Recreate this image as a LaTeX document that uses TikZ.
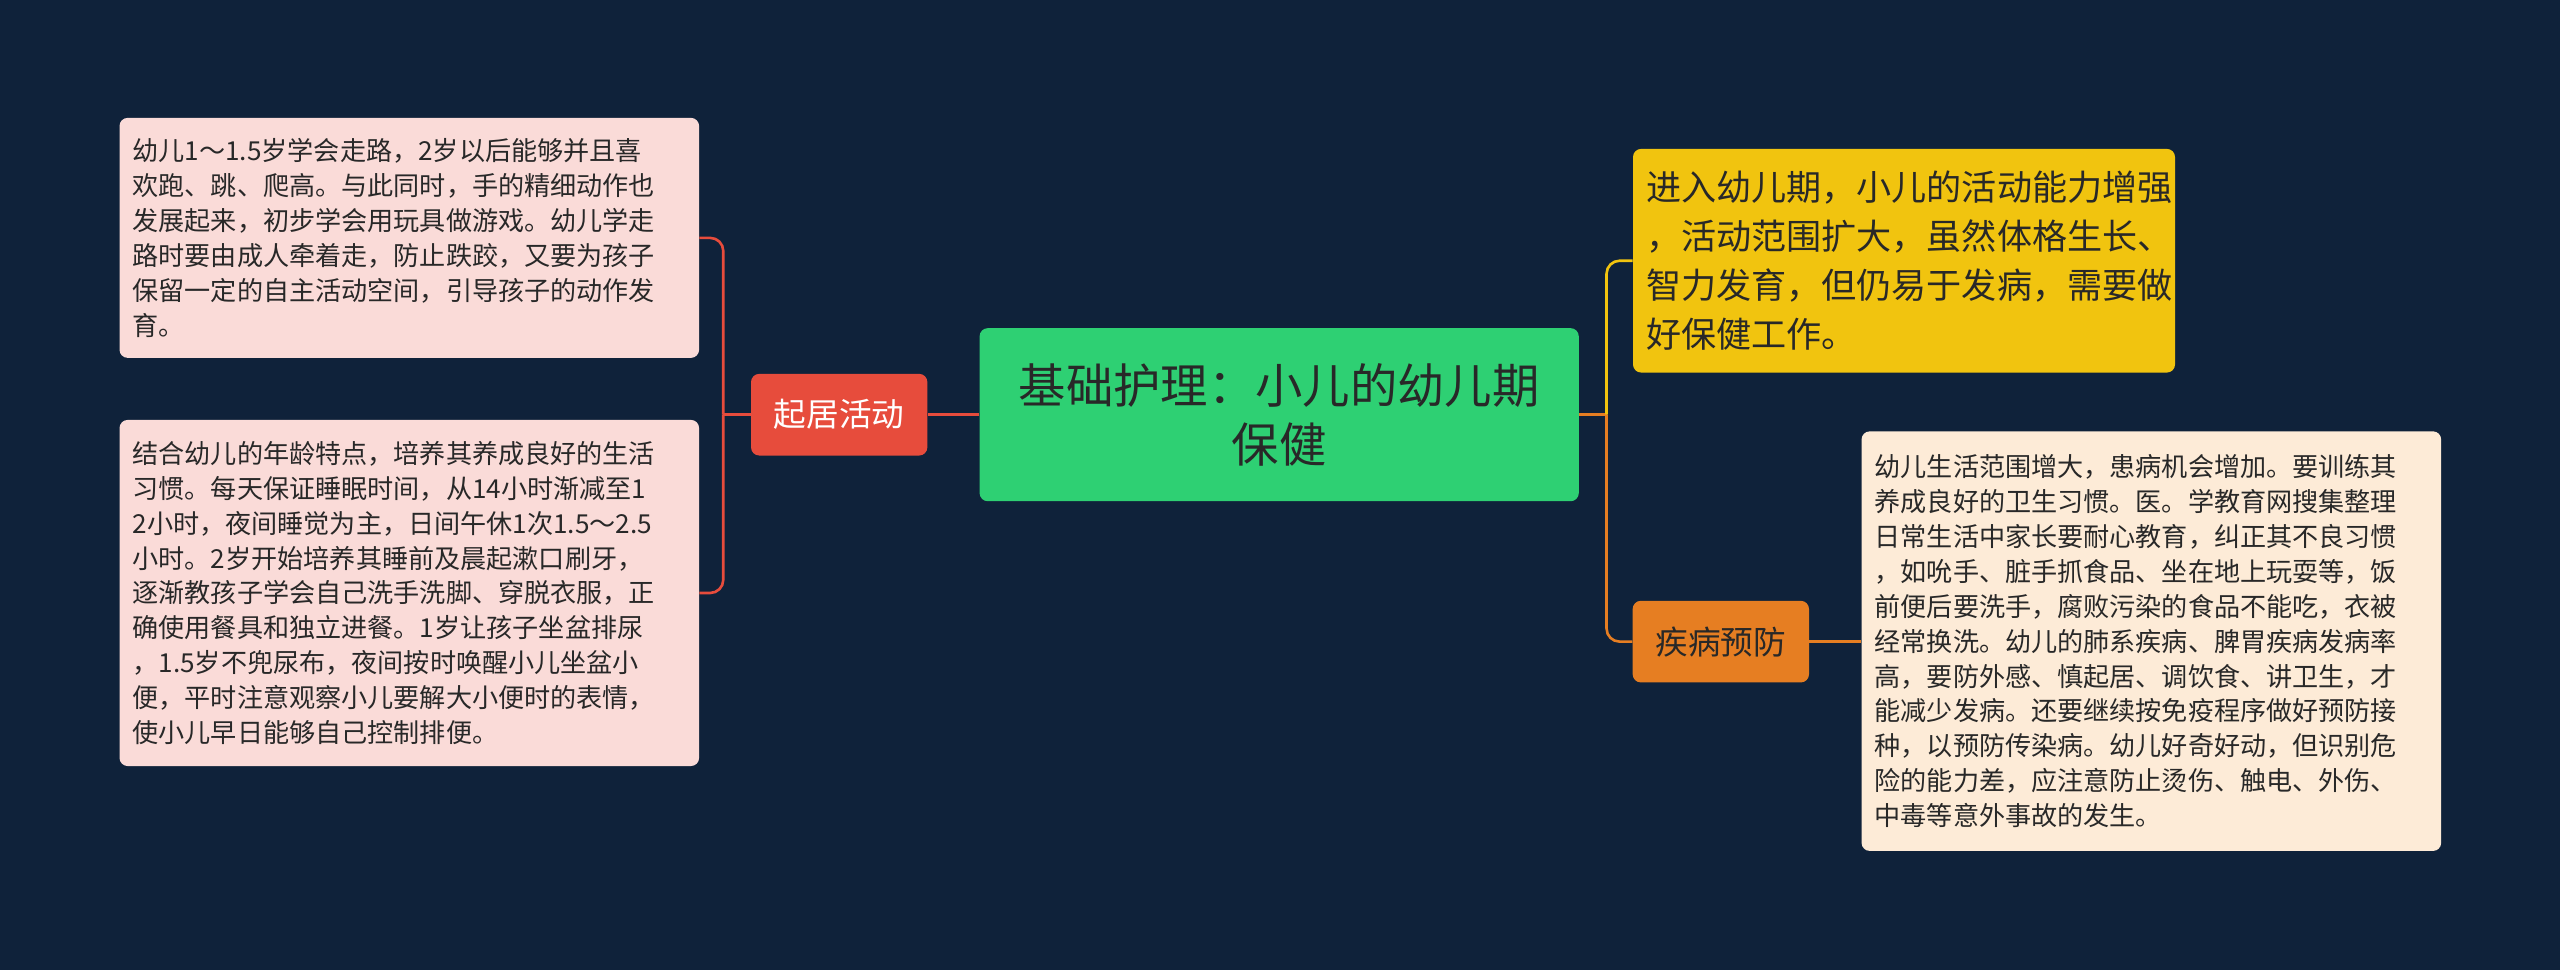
\documentclass[tikz,border=0pt]{standalone}
\usepackage{fontspec}
\setmainfont{Noto Sans CJK SC}
\definecolor{bgblue}{RGB}{15,34,58}
\definecolor{rootgreen}{RGB}{46,208,115}
\definecolor{redtopic}{RGB}{231,76,60}
\definecolor{pinkleaf}{RGB}{250,219,216}
\definecolor{yellowtopic}{RGB}{241,196,15}
\definecolor{orangetopic}{RGB}{230,126,34}
\definecolor{peachleaf}{RGB}{253,235,215}
\definecolor{darktext}{RGB}{40,40,40}
\tikzset{
  leafbox/.style={rectangle, rounded corners=5pt, anchor=north west, align=left, inner sep=8pt, text=darktext, font=\fontsize{16}{21.4}\selectfont},
  topicbox/.style={rectangle, rounded corners=5pt, text=white, font=\fontsize{20}{24}\selectfont, minimum width=108pt, minimum height=50pt},
  branch/.style={line width=1.6pt, rounded corners=8pt}
}
\begin{document}
\begin{tikzpicture}[x=1pt, y=-1pt]
  % background
  \fill[bgblue] (0,0) rectangle (1568,594);
  \useasboundingbox (0,0) rectangle (1568,594);

  % root
  \node[rectangle, rounded corners=5pt, fill=rootgreen, text=darktext, align=center,
        minimum width=367pt, minimum height=106pt,
        font=\fontsize{29}{36}\selectfont] (root) at (783.5,254) {基础护理：小儿的幼儿期\\保健};

  % left branch
  \node[topicbox, fill=redtopic] (qiju) at (514,254) {起居活动};
  \node[leafbox, fill=pinkleaf, text width=339pt, minimum height=147pt] (walk) at (73,72)
    {幼儿1～1.5岁学会走路，2岁以后能够并且喜\\欢跑、跳、爬高。与此同时，手的精细动作也\\发展起来，初步学会用玩具做游戏。幼儿学走\\路时要由成人牵着走，防止跌跤，又要为孩子\\保留一定的自主活动空间，引导孩子的动作发\\育。};
  \node[leafbox, fill=pinkleaf, text width=339pt, minimum height=212pt] (habit) at (73,257)
    {结合幼儿的年龄特点，培养其养成良好的生活\\习惯。每天保证睡眠时间，从14小时渐减至1\\2小时，夜间睡觉为主，日间午休1次1.5～2.5\\小时。2岁开始培养其睡前及晨起漱口刷牙，\\逐渐教孩子学会自己洗手洗脚、穿脱衣服，正\\确使用餐具和独立进餐。1岁让孩子坐盆排尿\\，1.5岁不兜尿布，夜间按时唤醒小儿坐盆小\\便，平时注意观察小儿要解大小便时的表情，\\使小儿早日能够自己控制排便。};

  % right branch
  \node[leafbox, fill=yellowtopic, text width=316pt, minimum height=137pt,
        font=\fontsize{21.5}{30}\selectfont] (intro) at (1000,91)
    {进入幼儿期，小儿的活动能力增强\\，活动范围扩大，虽然体格生长、\\智力发育，但仍易于发病，需要做\\好保健工作。};
  \node[topicbox, fill=orangetopic, text=darktext] (jibing) at (1054,393) {疾病预防};
  \node[leafbox, fill=peachleaf, text width=339pt, minimum height=257pt] (prevent) at (1140,264)
    {幼儿生活范围增大，患病机会增加。要训练其\\养成良好的卫生习惯。医。学教育网搜集整理\\日常生活中家长要耐心教育，纠正其不良习惯\\，如吮手、脏手抓食品、坐在地上玩耍等，饭\\前便后要洗手，腐败污染的食品不能吃，衣被\\经常换洗。幼儿的肺系疾病、脾胃疾病发病率\\高，要防外感、慎起居、调饮食、讲卫生，才\\能减少发病。还要继续按免疫程序做好预防接\\种，以预防传染病。幼儿好奇好动，但识别危\\险的能力差，应注意防止烫伤、触电、外伤、\\中毒等意外事故的发生。};

  % connectors
  \coordinate (lj) at (443,254);
  \coordinate (rj) at (984,254);
  \draw[branch, redtopic] (root.west) -- (qiju.east);
  \draw[branch, redtopic] (qiju.west) -- (lj);
  \draw[branch, redtopic] (lj) |- (walk.east);
  \draw[branch, redtopic] (lj) |- (habit.east);
  \draw[branch, orangetopic] (root.east) -- (rj);
  \draw[branch, yellowtopic] (rj) |- (intro.west);
  \draw[branch, orangetopic] (rj) |- (jibing.west);
  \draw[branch, orangetopic] (jibing.east) -- (prevent.west |- jibing.east);
\end{tikzpicture}
\end{document}
